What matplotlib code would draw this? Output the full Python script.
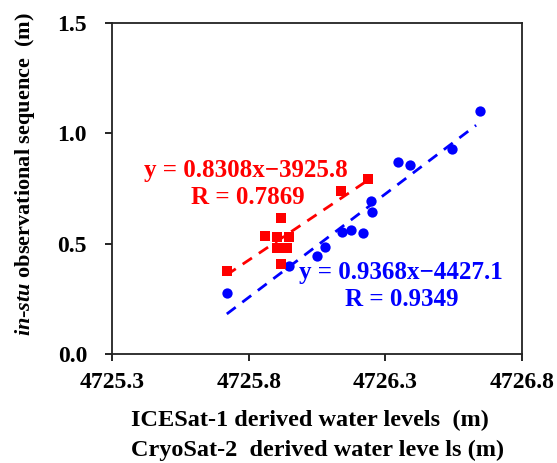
import matplotlib
matplotlib.use("Agg")
import matplotlib.pyplot as plt
import numpy as np

# ICESat-1 pairs (red squares) and CryoSat-2 pairs (blue circles)
ice_x = [4725.719, 4725.860, 4725.902, 4725.949, 4725.902, 4725.939,
         4725.920, 4725.920, 4726.138, 4726.238]
ice_y = [0.377, 0.535, 0.529, 0.529, 0.480, 0.480, 0.615, 0.410, 0.738, 0.795]

cryo_x = [4725.720, 4725.949, 4726.049, 4726.079, 4726.140, 4726.175,
          4726.220, 4726.248, 4726.250, 4726.345, 4726.390, 4726.545, 4726.647]
cryo_y = [0.277, 0.400, 0.443, 0.486, 0.553, 0.561, 0.549, 0.692, 0.643,
          0.869, 0.857, 0.928, 1.100]

ice_eq = ["y = 0.8308x\u22123925.8", "R = 0.7869"]
cryo_eq = ["y = 0.9368x\u22124427.1", "R = 0.9349"]

xticks = [4725.3, 4725.8, 4726.3, 4726.8]
yticks = [0.0, 0.5, 1.0, 1.5]

plt.rcParams["font.family"] = ["Liberation Serif", "DejaVu Serif"]
plt.rcParams["font.weight"] = "bold"
plt.rcParams["mathtext.fontset"] = "custom"
plt.rcParams["mathtext.it"] = "Liberation Serif:italic:bold"
plt.rcParams["mathtext.rm"] = "Liberation Serif:bold"

fig = plt.figure(figsize=(5.57, 4.63), dpi=100)
ax = fig.add_axes([0.2011, 0.2354, 0.7361, 0.7149])

# regression lines
for xs, ys, col in [(ice_x, ice_y, "red"), (cryo_x, cryo_y, "blue")]:
    xs = np.asarray(xs)
    k, b = np.polyfit(xs, ys, 1)
    xx = np.array([xs.min(), xs.max() - 0.015])
    ax.plot(xx, k * xx + b, "--", color=col, lw=2, dashes=(4, 3), zorder=2)

ax.scatter(cryo_x, cryo_y, s=55, marker="o", color="blue", zorder=3, linewidths=0)
ax.scatter(ice_x, ice_y, s=60, marker="s", color="red", zorder=4, linewidths=0)

ax.text(4725.79, 0.833, ice_eq[0], color="red", fontsize=18, ha="center", va="center")
ax.text(4725.795, 0.710, ice_eq[1], color="red", fontsize=18, ha="center", va="center")
ax.text(4726.357, 0.371, cryo_eq[0], color="blue", fontsize=18, ha="center", va="center")
ax.text(4726.36, 0.249, cryo_eq[1], color="blue", fontsize=18, ha="center", va="center")

ax.set_xlim(xticks[0], xticks[-1])
ax.set_ylim(yticks[0], yticks[-1])
ax.set_xticks(xticks)
ax.set_yticks(yticks)
ax.set_xticklabels([f"{v:.1f}" for v in xticks])
ax.set_yticklabels([f"{v:.1f}" for v in yticks])
ax.tick_params(direction="out", length=5, width=1.2, labelsize=17)
ax.tick_params(axis="x", pad=8)
ax.tick_params(axis="y", pad=13)
for sp in ax.spines.values():
    sp.set_linewidth(1.3)
    sp.set_color("#222222")

fig.text(310 / 557, 1 - 420 / 463, "ICESat-1 derived water levels  (m)",
         fontsize=17.5, ha="center", va="center")
fig.text(318 / 557, 1 - 450 / 463, "CryoSat-2  derived water leve ls (m)",
         fontsize=17.5, ha="center", va="center")
fig.text(25 / 557, 1 - 174 / 463, r"$\mathit{in}$-$\mathit{stu}$ observational sequence  (m)",
         fontsize=16, ha="center", va="center", rotation=90)

fig.savefig("out.png", dpi=100)
